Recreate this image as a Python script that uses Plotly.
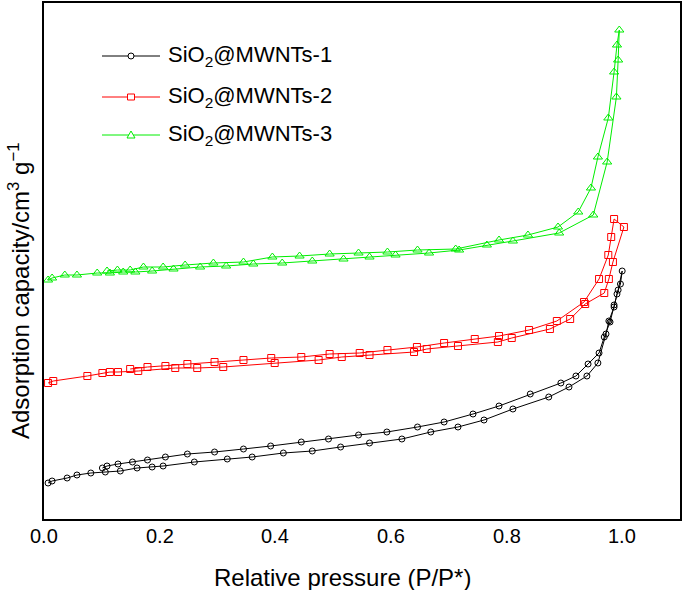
import plotly.graph_objects as go

# ---- data (relative pressure P/P*, adsorption capacity in arbitrary units) ----
names = ["SiO<sub>2</sub>@MWNTs-1", "SiO<sub>2</sub>@MWNTs-2", "SiO<sub>2</sub>@MWNTs-3"]

s1_ads_p = [0.007, 0.014, 0.040, 0.057, 0.081, 0.106, 0.132, 0.161, 0.187, 0.206, 0.260, 0.317, 0.360,
            0.414, 0.464, 0.513, 0.563, 0.619, 0.669, 0.716, 0.761, 0.811, 0.873, 0.908, 0.939, 0.958,
            0.972, 0.977, 0.986, 0.991, 0.997, 1.000]
s1_ads_v = [36, 38, 41, 44, 46, 47, 48, 51, 52, 53, 57, 60, 62, 66, 68, 72, 76, 80, 87, 92, 99, 110, 122,
            132, 143, 156, 185, 198, 212, 225, 235, 248]
s1_des_p = [0.993, 0.986, 0.979, 0.969, 0.960, 0.941, 0.920, 0.894, 0.841, 0.787, 0.742, 0.692, 0.646,
            0.593, 0.544, 0.492, 0.445, 0.392, 0.345, 0.295, 0.248, 0.210, 0.179, 0.153, 0.128, 0.109, 0.101]
s1_des_v = [229, 214, 197, 182, 166, 155, 143, 136, 125, 113, 105, 97, 92, 87, 84, 80, 77, 73, 70, 67, 65,
            62, 59, 57, 55, 53, 51]

s2_ads_p = [0.007, 0.016, 0.075, 0.101, 0.114, 0.128, 0.163, 0.227, 0.265, 0.310, 0.399, 0.475, 0.515,
            0.563, 0.640, 0.662, 0.716, 0.785, 0.809, 0.875, 0.910, 0.936, 0.969, 0.977, 0.984, 1.003]
s2_ads_v = [136, 138, 143, 146, 147, 147, 148, 151, 151, 152, 156, 159, 162, 164, 167, 170, 173, 177, 181,
            190, 200, 215, 226, 240, 257, 292]
s2_des_p = [0.986, 0.981, 0.976, 0.960, 0.934, 0.887, 0.839, 0.787, 0.745, 0.692, 0.645, 0.594, 0.546,
            0.494, 0.445, 0.393, 0.345, 0.295, 0.248, 0.210, 0.179, 0.149]
s2_des_v = [300, 282, 264, 240, 217, 198, 189, 183, 180, 176, 172, 169, 166, 165, 162, 161, 159, 157, 155,
            153, 152, 150]

s3_ads_p = [0.007, 0.014, 0.036, 0.057, 0.092, 0.114, 0.137, 0.158, 0.187, 0.224, 0.270, 0.315, 0.362,
            0.412, 0.464, 0.518, 0.563, 0.608, 0.666, 0.718, 0.766, 0.811, 0.891, 0.950, 0.974, 0.990,
            0.993, 0.995]
s3_ads_v = [239, 241, 244, 244, 246, 246, 247, 247, 248, 250, 252, 253, 255, 256, 258, 260, 262, 264, 266,
            269, 274, 278, 286, 304, 357, 422, 459, 489]
s3_des_p = [0.991, 0.986, 0.976, 0.958, 0.946, 0.924, 0.889, 0.837, 0.787, 0.712, 0.646, 0.594, 0.544,
            0.494, 0.442, 0.395, 0.345, 0.293, 0.244, 0.206, 0.172, 0.149, 0.127, 0.109]
s3_des_v = [474, 447, 401, 362, 331, 307, 292, 284, 279, 270, 269, 267, 266, 265, 263, 262, 257, 256, 254,
            252, 252, 249, 249, 248]

x_ticks = [0.0, 0.2, 0.4, 0.6, 0.8, 1.0]
x_tick_labels = ["0.0", "0.2", "0.4", "0.6", "0.8", "1.0"]
x_title = "Relative pressure (P/P*)"
y_title = "Adsorption capacity/cm<sup>3</sup> g<sup>\u22121</sup>"

# ---- style ----
colors = ["#000000", "#ff0000", "#00ee00"]
symbols = ["circle-open", "square-open", "triangle-up-open"]
msizes = [6, 7, 8]

series = [
    (s1_ads_p + s1_des_p, s1_ads_v + s1_des_v),
    (s2_ads_p + s2_des_p, s2_ads_v + s2_des_v),
    (s3_ads_p + s3_des_p, s3_ads_v + s3_des_v),
]

fig = go.Figure()
for (px, vy), name, c, sym, ms in zip(series, names, colors, symbols, msizes):
    fig.add_trace(go.Scatter(
        x=px, y=vy, mode="lines+markers", name=name, showlegend=False,
        line=dict(color=c, width=1),
        marker=dict(symbol=sym, size=ms, color=c, line=dict(width=1, color=c)),
    ))

FONT = "Liberation Sans, Arial, Helvetica, sans-serif"
L, R, T, B = 44, 5, 3, 71
W, H = 685, 590
pw, ph = W - L - R, H - T - B

def px2paper(xp, yp):
    return (xp - L) / pw, (H - B - yp) / ph

# ---- manual legend ----
leg_y = [56, 97, 135]
shapes = []
annotations = []
for i, (name, c) in enumerate(zip(names, colors)):
    x0, y0 = px2paper(102, leg_y[i])
    x1, _ = px2paper(160, leg_y[i])
    xm, _ = px2paper(131, leg_y[i])
    shapes.append(dict(type="line", xref="paper", yref="paper", x0=x0, x1=x1, y0=y0, y1=y0,
                       line=dict(color=c, width=1)))
    if i == 0:
        shapes.append(dict(type="circle", xref="paper", yref="paper", xsizemode="pixel",
                           ysizemode="pixel", xanchor=xm, yanchor=y0, x0=-3, x1=3, y0=-3, y1=3,
                           line=dict(color=c, width=1), fillcolor="white"))
    elif i == 1:
        shapes.append(dict(type="rect", xref="paper", yref="paper", xsizemode="pixel",
                           ysizemode="pixel", xanchor=xm, yanchor=y0, x0=-3.5, x1=3.5, y0=-3, y1=3,
                           line=dict(color=c, width=1), fillcolor="white"))
    else:
        shapes.append(dict(type="path", xref="paper", yref="paper", xsizemode="pixel",
                           ysizemode="pixel", xanchor=xm, yanchor=y0,
                           path="M -4,-3 L 4,-3 L 0,4 Z",
                           line=dict(color=c, width=1), fillcolor="white"))
    tx, ty = px2paper(166, leg_y[i])
    annotations.append(dict(x=tx, y=ty, xref="paper", yref="paper", text=name, showarrow=False,
                            xanchor="left", yanchor="middle",
                            font=dict(family=FONT, size=22, color="black")))

# x tick labels placed at data x positions, just below the frame
_, tick_y = px2paper(0, 536)
for tv, tl in zip(x_ticks, x_tick_labels):
    annotations.append(dict(x=tv, y=tick_y, xref="x", yref="paper", text=tl, showarrow=False,
                            xanchor="center", yanchor="middle",
                            font=dict(family=FONT, size=20, color="black")))

# axis titles as annotations (positioned like the reference)
tx, ty = px2paper(342, 577)
annotations.append(dict(x=tx, y=ty, xref="paper", yref="paper", text=x_title, showarrow=False,
                        xanchor="center", yanchor="middle", font=dict(family=FONT, size=24, color="black")))
tx, ty = px2paper(19, 291)
annotations.append(dict(x=tx, y=ty, xref="paper", yref="paper", text=y_title, showarrow=False,
                        textangle=-90, xanchor="center", yanchor="middle",
                        font=dict(family=FONT, size=24, color="black")))

fig.update_layout(
    width=W, height=H,
    margin=dict(l=L, r=R, t=T, b=B),
    paper_bgcolor="white", plot_bgcolor="white",
    font=dict(family=FONT, color="black"),
    shapes=shapes, annotations=annotations,
    xaxis=dict(range=[0, 1.1], tickvals=x_ticks, showticklabels=False, showgrid=False,
               zeroline=False, showline=True, mirror=True, linecolor="black", linewidth=2,
               ticks="", automargin=False),
    yaxis=dict(range=[0, 516], showticklabels=False, showgrid=False, zeroline=False,
               showline=True, mirror=True, linecolor="black", linewidth=2, ticks="",
               automargin=False),
)

fig.write_html("out.html", config={"displayModeBar": False},
               post_script="document.body.style.margin='0';document.body.style.padding='0';")
